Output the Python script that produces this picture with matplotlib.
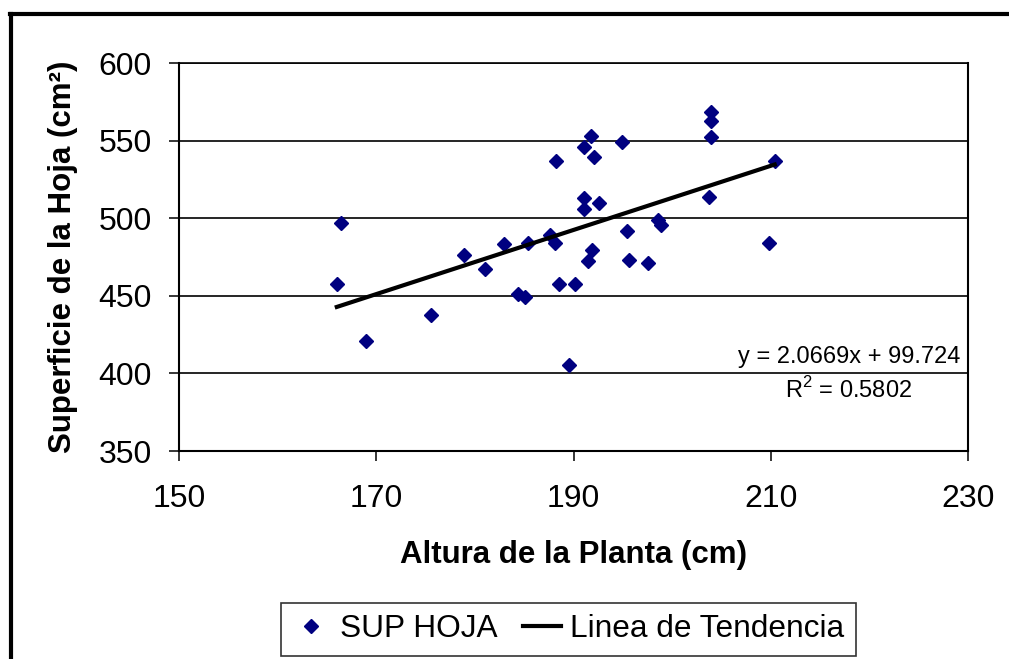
import matplotlib
matplotlib.use("Agg")
import numpy as np
from matplotlib import pyplot as plt
from matplotlib.lines import Line2D

plt.rcParams['font.family'] = ['Liberation Sans', 'DejaVu Sans']
plt.rcParams['mathtext.fontset'] = 'custom'
plt.rcParams['mathtext.rm'] = 'Liberation Sans'

# datos
altura = [166.0, 166.4, 169.0, 175.5, 178.9, 181.0, 183.0, 184.4, 185.1, 185.4,
          187.6, 188.1, 188.2, 188.5, 190.1, 189.5, 191.1, 191.8, 192.1, 191.1,
          191.1, 192.6, 191.9, 191.5, 194.9, 195.4, 195.6, 197.6, 198.6, 198.9,
          203.9, 203.9, 203.9, 203.7, 210.4, 209.8]
sup_hoja = [457.4, 496.9, 421.1, 437.8, 476.6, 467.4, 483.2, 451.0, 449.3, 484.3,
            489.2, 483.8, 537.0, 457.4, 457.4, 405.6, 545.7, 553.0, 539.4, 512.8,
            505.7, 510.0, 479.5, 472.4, 548.9, 491.9, 472.9, 471.4, 498.8, 495.6,
            568.4, 562.6, 552.5, 513.9, 537.0, 484.3]
pendiente = 2.0669
intercepto = 99.724
r2 = 0.5802

x_ticks = [150, 170, 190, 210, 230]
y_ticks = [350, 400, 450, 500, 550, 600]

fig = plt.figure(figsize=(10.09, 6.59), dpi=100)
ax = fig.add_axes([0.1774, 0.3156, 0.7820, 0.5888])

for y in y_ticks[1:]:
    ax.axhline(y, color='black', linewidth=1.2, zorder=1)

ax.plot(altura, sup_hoja, linestyle='none', marker='D', markersize=7,
        color='#000080', label='SUP HOJA', zorder=3)

xt = np.array([min(altura), max(altura)])
ax.plot(xt, pendiente * xt + intercepto, color='black', linewidth=3,
        label='Linea de Tendencia', zorder=4)

ax.set_xlim(150, 230)
ax.set_ylim(350, 600)
ax.set_xticks(x_ticks)
ax.set_yticks(y_ticks)
ax.tick_params(axis='both', direction='out', length=7.5, width=1.1,
               labelsize=23, color='black')
ax.tick_params(axis='x', pad=16)
ax.tick_params(axis='y', pad=12)
for s in ax.spines.values():
    s.set_linewidth(1.5)
ax.spines['top'].set_linewidth(1.2)

ax.set_xlabel('Altura de la Planta (cm)', fontsize=22.5, fontweight='bold',
              labelpad=19)
ax.set_ylabel('Superficie de la Hoja (cm²)', fontsize=22.5, fontweight='bold',
              labelpad=15)

# ecuacion de la recta
ax.text(849 / 1009, 1 - 363 / 659, 'y = %.4fx + %.3f' % (pendiente, intercepto),
        transform=fig.transFigure, ha='center', va='baseline', fontsize=17)
ax.text(849 / 1009, 1 - 398 / 659, r'R$^{2}$ = %.4f' % r2,
        transform=fig.transFigure, ha='center', va='baseline', fontsize=17)

leg = fig.legend(loc='center', bbox_to_anchor=(0.5634, 0.0448), ncol=2,
                 fontsize=22.8, frameon=True, fancybox=False, borderpad=0.35,
                 handlelength=1.2, handletextpad=0.3, columnspacing=0.8,
                 borderaxespad=0)
leg.get_frame().set_edgecolor('black')
leg.get_frame().set_linewidth(1.2)

# marco exterior
fig.add_artist(Line2D([11 / 1009, 11 / 1009], [0, 1 - 14 / 659],
                      transform=fig.transFigure, color='black', linewidth=3))
fig.add_artist(Line2D([9.5 / 1009, 1], [1 - 14 / 659, 1 - 14 / 659],
                      transform=fig.transFigure, color='black', linewidth=3))

fig.savefig('out.png', dpi=100)
